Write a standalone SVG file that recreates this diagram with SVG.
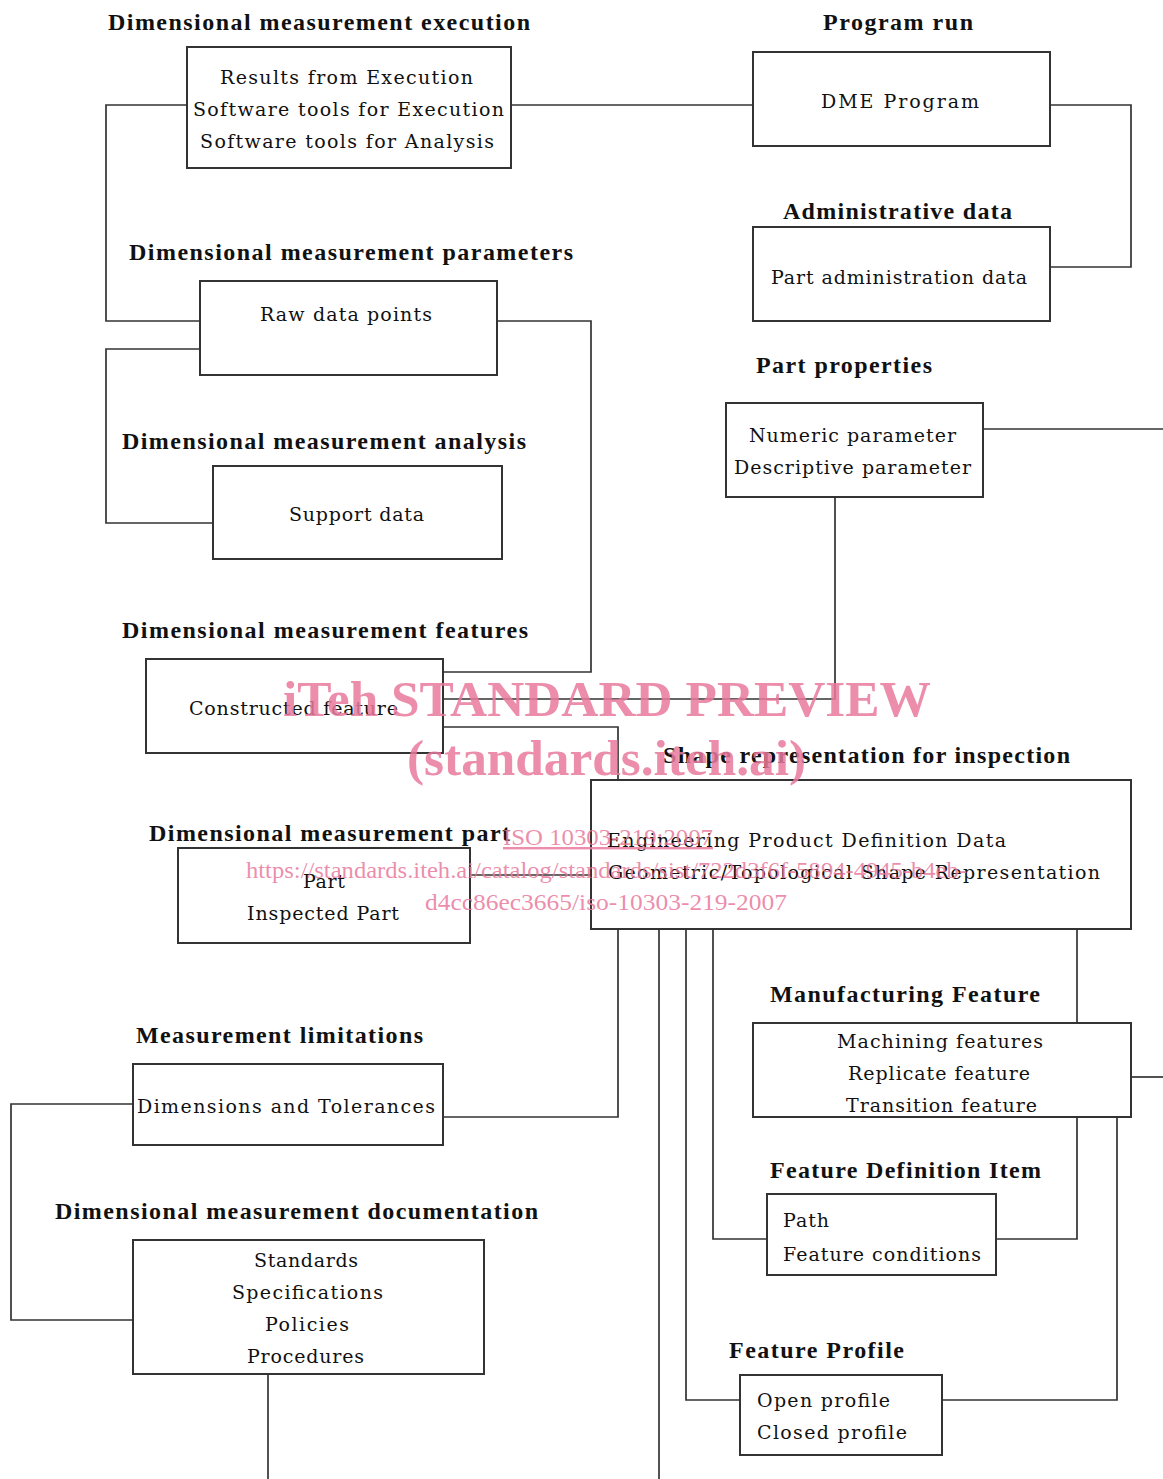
<svg xmlns="http://www.w3.org/2000/svg" width="1163" height="1479" viewBox="0 0 1163 1479">
<style>
.bg{fill:#fff}
.box{fill:#fff;stroke:#333;stroke-width:2}
.ln{fill:none;stroke:#333;stroke-width:1.7}
.t{font-family:"DejaVu Serif","Liberation Serif",serif;font-size:19px;fill:#111}
.h{font-family:"Liberation Serif","DejaVu Serif",serif;font-size:24px;font-weight:bold;fill:#111}
.wm{font-family:"Liberation Serif","DejaVu Serif",serif;fill:#e8799c;fill-opacity:0.85}
.wb{font-size:50px;font-weight:bold}
.ws{font-size:24px}
</style>
<rect class="bg" x="0" y="0" width="1163" height="1479"/>
<g id="connectors">
<path class="ln" d="M187,105 H106 V321 H200"/>
<path class="ln" d="M511,105 H753"/>
<path class="ln" d="M1050,105 H1131 V267 H1050"/>
<path class="ln" d="M497,321 H591 V672 H443"/>
<path class="ln" d="M200,349 H106 V523 H213"/>
<path class="ln" d="M983,429 H1163"/>
<path class="ln" d="M835,497 V699 H443"/>
<path class="ln" d="M443,727 H618 V780"/>
<path class="ln" d="M470,875 H591"/>
<path class="ln" d="M618,929 V1117 H443"/>
<path class="ln" d="M659,929 V1479"/>
<path class="ln" d="M686,929 V1400 H740"/>
<path class="ln" d="M713,929 V1239 H767"/>
<path class="ln" d="M1077,929 V1023"/>
<path class="ln" d="M1077,1117 V1239 H996"/>
<path class="ln" d="M1117,1117 V1400 H942"/>
<path class="ln" d="M1131,1077 H1163"/>
<path class="ln" d="M133,1104 H11 V1320 H133"/>
<path class="ln" d="M268,1374 V1479"/>
</g>
<g id="execution">
<text class="h" x="108" y="30" textLength="422">Dimensional measurement execution</text>
<rect class="box" x="187" y="47" width="324" height="121"/>
<text class="t" x="220" y="84" textLength="253">Results from Execution</text>
<text class="t" x="193" y="116" textLength="311">Software tools for Execution</text>
<text class="t" x="200" y="148" textLength="294">Software tools for Analysis</text>
</g>
<g id="program-run">
<text class="h" x="823" y="30" textLength="150">Program run</text>
<rect class="box" x="753" y="52" width="297" height="94"/>
<text class="t" x="821" y="108" textLength="158">DME Program</text>
</g>
<g id="administrative">
<text class="h" x="783" y="219" textLength="229">Administrative data</text>
<rect class="box" x="753" y="227" width="297" height="94"/>
<text class="t" x="771" y="284" textLength="256">Part administration data</text>
</g>
<g id="parameters">
<text class="h" x="129" y="260" textLength="444">Dimensional measurement parameters</text>
<rect class="box" x="200" y="281" width="297" height="94"/>
<text class="t" x="260" y="321" textLength="172">Raw data points</text>
</g>
<g id="part-properties">
<text class="h" x="756" y="373" textLength="176">Part properties</text>
<rect class="box" x="726" y="403" width="257" height="94"/>
<text class="t" x="749" y="442" textLength="207">Numeric parameter</text>
<text class="t" x="734" y="474" textLength="237">Descriptive parameter</text>
</g>
<g id="analysis">
<text class="h" x="122" y="449" textLength="404">Dimensional measurement analysis</text>
<rect class="box" x="213" y="466" width="289" height="93"/>
<text class="t" x="289" y="521" textLength="135">Support data</text>
</g>
<g id="features">
<text class="h" x="122" y="638" textLength="406">Dimensional measurement features</text>
<rect class="box" x="146" y="659" width="297" height="94"/>
<text class="t" x="189" y="715" textLength="209">Constructed feature</text>
</g>
<g id="shape-representation">
<text class="h" x="663" y="763" textLength="407">Shape representation for inspection</text>
<rect class="box" x="591" y="780" width="540" height="149"/>
<text class="t" x="607" y="847" textLength="399">Engineering Product Definition Data</text>
<text class="t" x="608" y="879" textLength="492">Geometric/Topological Shape Representation</text>
</g>
<g id="part">
<text class="h" x="149" y="841" textLength="361">Dimensional measurement part</text>
<rect class="box" x="178" y="848" width="292" height="95"/>
<text class="t" x="303" y="888" textLength="42">Part</text>
<text class="t" x="247" y="920" textLength="152">Inspected Part</text>
</g>
<g id="manufacturing-feature">
<text class="h" x="770" y="1002" textLength="270">Manufacturing Feature</text>
<rect class="box" x="753" y="1023" width="378" height="94"/>
<text class="t" x="837" y="1048" textLength="206">Machining features</text>
<text class="t" x="848" y="1080" textLength="182">Replicate feature</text>
<text class="t" x="846" y="1112" textLength="191">Transition feature</text>
</g>
<g id="limitations">
<text class="h" x="136" y="1043" textLength="287">Measurement limitations</text>
<rect class="box" x="133" y="1064" width="310" height="81"/>
<text class="t" x="137" y="1113" textLength="298">Dimensions and Tolerances</text>
</g>
<g id="feature-definition-item">
<text class="h" x="770" y="1178" textLength="271">Feature Definition Item</text>
<rect class="box" x="767" y="1194" width="229" height="81"/>
<text class="t" x="783" y="1227" textLength="46">Path</text>
<text class="t" x="783" y="1261" textLength="198">Feature conditions</text>
</g>
<g id="documentation">
<text class="h" x="55" y="1219" textLength="483">Dimensional measurement documentation</text>
<rect class="box" x="133" y="1240" width="351" height="134"/>
<text class="t" x="254" y="1267" textLength="104">Standards</text>
<text class="t" x="232" y="1299" textLength="151">Specifications</text>
<text class="t" x="265" y="1331" textLength="84">Policies</text>
<text class="t" x="247" y="1363" textLength="117">Procedures</text>
</g>
<g id="feature-profile">
<text class="h" x="729" y="1358" textLength="175">Feature Profile</text>
<rect class="box" x="740" y="1375" width="202" height="80"/>
<text class="t" x="757" y="1407" textLength="133">Open profile</text>
<text class="t" x="757" y="1439" textLength="150">Closed profile</text>
</g>
<g id="watermark">
<text class="wm wb" x="283" y="716" textLength="648" lengthAdjust="spacingAndGlyphs">iTeh STANDARD PREVIEW</text>
<text class="wm wb" x="407" y="775" textLength="399" lengthAdjust="spacingAndGlyphs">(standards.iteh.ai)</text>
<text class="wm ws" x="503" y="845" textLength="210" lengthAdjust="spacingAndGlyphs" text-decoration="underline">ISO 10303-219:2007</text>
<text class="wm ws" x="246" y="878" textLength="721" lengthAdjust="spacingAndGlyphs">https://standards.iteh.ai/catalog/standards/sist/722d3f6f-5894-4945-b4eb-</text>
<text class="wm ws" x="425" y="910" textLength="362" lengthAdjust="spacingAndGlyphs">d4cc86ec3665/iso-10303-219-2007</text>
</g>
</svg>
